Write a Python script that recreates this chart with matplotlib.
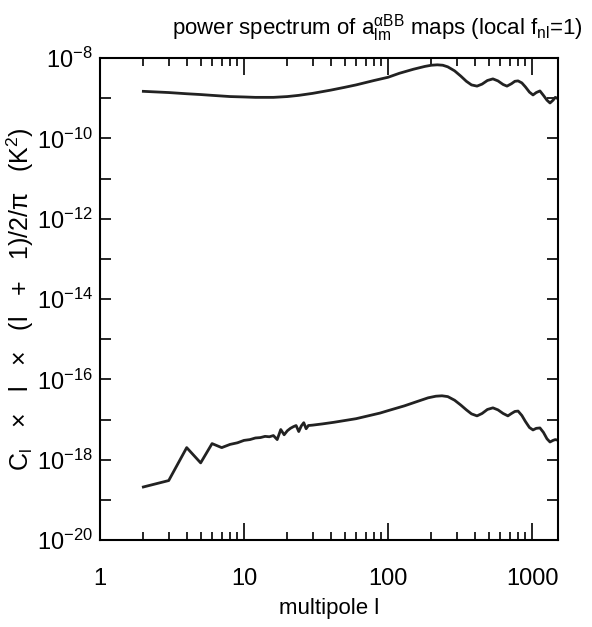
import numpy as np
import matplotlib
matplotlib.use("Agg")
import matplotlib.pyplot as plt
from matplotlib.ticker import FixedLocator, NullFormatter, LogLocator

FONT = "Liberation Sans"
plt.rcParams["font.family"] = [FONT, "DejaVu Sans"]
plt.rcParams["mathtext.fontset"] = "custom"
plt.rcParams["mathtext.rm"] = FONT
plt.rcParams["mathtext.it"] = FONT
plt.rcParams["mathtext.bf"] = FONT
plt.rcParams["mathtext.sf"] = FONT

# upper curve (log10 values)
l_upper = [2, 3, 4, 5, 6, 8, 10, 12, 16, 20, 24, 30, 40, 50, 60, 80, 100, 120, 150, 180, 200, 220, 240, 260, 290, 320, 350, 380, 415, 450, 490, 535, 580, 630, 670, 720, 760, 800, 850, 900, 960, 1016, 1070, 1135, 1200, 1270, 1333, 1400, 1450, 1490]
logv_upper = [-8.83, -8.86, -8.89, -8.91, -8.93, -8.96, -8.97, -8.98, -8.98, -8.96, -8.93, -8.88, -8.80, -8.73, -8.67, -8.56, -8.48, -8.38, -8.28, -8.21, -8.18, -8.17, -8.18, -8.22, -8.32, -8.45, -8.58, -8.67, -8.70, -8.65, -8.56, -8.52, -8.57, -8.66, -8.70, -8.64, -8.58, -8.57, -8.62, -8.72, -8.85, -8.92, -8.86, -8.82, -8.93, -9.05, -9.12, -9.05, -8.98, -9.00]

# lower curve (log10 values)
l_lower = [2, 3, 4, 5, 6, 7, 8, 9, 10, 11, 12, 13, 14, 15, 16, 17, 18, 19, 20, 21, 22, 23, 24, 25, 26, 27, 28, 30, 35, 42, 60, 88, 100, 130, 160, 190, 215, 237, 260, 290, 320, 350, 380, 415, 450, 490, 535, 580, 630, 680, 720, 760, 800, 850, 900, 960, 1016, 1070, 1135, 1200, 1270, 1333, 1400, 1450, 1490]
logv_lower = [-18.68, -18.52, -17.70, -18.08, -17.60, -17.70, -17.62, -17.58, -17.52, -17.50, -17.46, -17.45, -17.42, -17.43, -17.40, -17.50, -17.25, -17.38, -17.28, -17.22, -17.18, -17.15, -17.30, -17.16, -17.08, -17.23, -17.15, -17.14, -17.11, -17.07, -16.98, -16.84, -16.78, -16.66, -16.55, -16.46, -16.42, -16.41, -16.43, -16.52, -16.64, -16.76, -16.86, -16.91, -16.85, -16.75, -16.71, -16.76, -16.85, -16.91, -16.85, -16.80, -16.79, -16.90, -17.05, -17.20, -17.26, -17.22, -17.21, -17.32, -17.48, -17.56, -17.52, -17.50, -17.51]

x_ticks = [1, 10, 100, 1000]
x_ticklabels = ["1", "10", "100", "1000"]
y_label_exps = [-8, -10, -12, -14, -16, -18, -20]

fig = plt.figure(figsize=(5.92, 6.27), dpi=100)
ax = fig.add_axes([100/592, 1-540/627, 458/592, 482/627])

ax.plot(l_upper, 10**np.array(logv_upper), color="#222222", lw=2.0)
ax.plot(l_lower, 10**np.array(logv_lower), color="#222222", lw=2.0)

ax.set_xscale("log")
ax.set_yscale("log")
ax.set_xlim(1, 1515)
ax.set_ylim(1e-20, 1e-8)

ax.xaxis.set_major_locator(FixedLocator(x_ticks))
ax.set_xticklabels(x_ticklabels)
ax.xaxis.set_minor_locator(LogLocator(base=10, subs=np.arange(2, 10), numticks=20))
ax.xaxis.set_minor_formatter(NullFormatter())

yt = [10.0**e for e in range(-20, -7)]
ax.yaxis.set_major_locator(FixedLocator(yt))
ax.set_yticklabels([f"$10^{{{e}}}$" if e in y_label_exps else "" for e in range(-20, -7)])
ax.yaxis.set_minor_locator(FixedLocator([]))

ax.tick_params(which="both", direction="in", top=True, right=True, width=1.2)
ax.tick_params(axis="x", which="major", length=12, labelsize=17, pad=20)
ax.tick_params(axis="x", which="minor", length=6)
ax.tick_params(axis="y", which="major", length=8, labelsize=17, pad=5)
for s in ax.spines.values():
    s.set_linewidth(1.5)

ax.set_xlabel("multipole l", fontsize=16, labelpad=6)
ax.set_ylabel(r"C$_\mathregular{l}$   ×   l   ×   (l   +   1)/2/π   (K$^\mathregular{2}$)", fontsize=18)
ax.yaxis.set_label_coords(-0.14, 0.5)
fig.text(0.637, 0.955, r"power spectrum of a$_\mathregular{lm}^{\mathregular{\alpha BB}}$ maps (local f$_\mathregular{nl}$=1)",
         ha="center", va="center", fontsize=16)

fig.savefig("out.png", dpi=100)
